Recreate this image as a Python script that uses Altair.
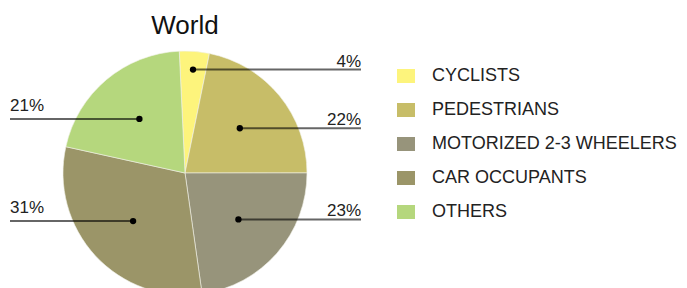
import math
import altair as alt
import pandas as pd

# ---- data ----
categories = ["CYCLISTS", "PEDESTRIANS", "MOTORIZED 2-3 WHEELERS", "CAR OCCUPANTS", "OTHERS"]
shares = [4, 22, 23, 31, 21]
labels = ["4%", "22%", "23%", "31%", "21%"]
colors = ["#FDF47C", "#C7BD68", "#97947B", "#9B9568", "#B5D77D"]
title_text = "World"

# ---- layout ----
W = 354
PAD_TOP = 5
TITLE_FS = 26
TITLE_H = PAD_TOP + TITLE_FS + 0
CX = W / 2
CY = 173 - 8 - TITLE_H
H = 2 * CY
R = 122
START = math.radians(-2.7)
FONT = "Liberation Sans"

total = sum(shares)
rows = []
cum = 0
for i, (c, v, l) in enumerate(zip(categories, shares, labels)):
    mid = START + 2 * math.pi * (cum + v / 2) / total
    cum += v
    frac = 0.85 if v / total < 0.1 else 0.58
    r = R * frac
    px = CX + r * math.sin(mid)
    py = CY - r * math.cos(mid)
    right = math.sin(mid) > 0
    rows.append(dict(cat=c, value=v, label=l, idx=i, px=px, py=py,
                     side="right" if right else "left",
                     x0=px if right else 2, x1=W - 1 if right else px))
df = pd.DataFrame(rows)

xs = alt.Scale(domain=[0, W], nice=False, zero=False)
ys = alt.Scale(domain=[0, H], nice=False, zero=False, reverse=True)

base = alt.Chart(df)

arc = base.mark_arc(outerRadius=R, stroke="#f2f2ea", strokeWidth=0.6).encode(
    theta=alt.Theta("value:Q", stack=True,
                    scale=alt.Scale(range=[START, START + 2 * math.pi])),
    color=alt.Color("cat:N", scale=alt.Scale(domain=categories, range=colors),
                    legend=alt.Legend(title=None, orient="none", legendX=389,
                                      legendY=67 - (8 + TITLE_H),
                                      symbolType="M-1,-0.78L1,-0.78L1,0.78L-1,0.78Z",
                                      symbolSize=324, symbolStrokeWidth=0,
                                      labelFontSize=18, labelFont=FONT,
                                      labelColor="#222", labelOffset=17,
                                      rowPadding=16, padding=0, labelLimit=400)),
    order=alt.Order("idx:Q"),
)

rules = base.mark_rule(color="black", opacity=0.6, strokeWidth=2).encode(
    x=alt.X("x0:Q", scale=xs, axis=None), x2="x1:Q",
    y=alt.Y("py:Q", scale=ys, axis=None),
)

dots = base.mark_circle(size=40, color="black", opacity=1).encode(
    x=alt.X("px:Q", scale=xs, axis=None),
    y=alt.Y("py:Q", scale=ys, axis=None),
)

right_lbl = base.transform_filter(alt.datum.side == "right").mark_text(
    align="right", baseline="alphabetic", dy=-3, fontSize=17, font=FONT, color="#222"
).encode(x=alt.X("x1:Q", scale=xs, axis=None), y=alt.Y("py:Q", scale=ys, axis=None),
         text="label:N")

left_lbl = base.transform_filter(alt.datum.side == "left").mark_text(
    align="left", baseline="alphabetic", dy=-8, fontSize=17, font=FONT, color="#222"
).encode(x=alt.X("x0:Q", scale=xs, axis=None), y=alt.Y("py:Q", scale=ys, axis=None),
         text="label:N")

chart = alt.layer(arc, rules, dots, right_lbl, left_lbl).properties(
    width=W, height=H,
    padding={"left": 0, "top": PAD_TOP, "right": 0, "bottom": 0},
    title=alt.Title(title_text, fontSize=TITLE_FS, fontWeight="normal", font=FONT,
                    color="#111", anchor="middle", frame="group", offset=0),
).configure(font=FONT, view=alt.ViewConfig(stroke="transparent"))

chart.save("out.html", embed_options={"renderer": "svg", "actions": False})
